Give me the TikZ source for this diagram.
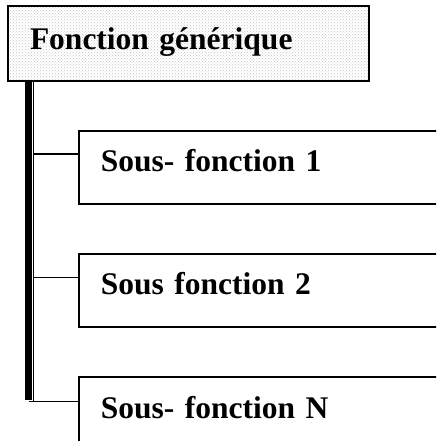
\documentclass[tikz,border=0pt]{standalone}
\usepackage{fontspec}
\setmainfont{Liberation Serif}
\usetikzlibrary{positioning,patterns}

\tikzset{
  topbox/.style={draw, line width=2pt, anchor=north west, align=left,
    text width=317pt, inner xsep=22pt, minimum height=75pt,
    text height=23pt, text depth=10pt,
    pattern=crosshatch dots, pattern color=gray!45},
  subbox/.style={draw, line width=1.6pt, anchor=north west, align=left,
    text width=356pt, inner xsep=22pt, minimum height=73pt,
    text height=21pt, text depth=12pt},
  link/.style={line width=1.2pt},
  trunk/.style={line width=6.5pt}
}

\begin{document}
\begin{tikzpicture}[x=1pt, y=-1pt, font=\fontsize{31.5}{36}\selectfont\bfseries]
\useasboundingbox (0,0) rectangle (436,441);
\clip (0,0) rectangle (436,441);

% ======================================
% THE GENERIC FUNCTION
% ======================================
\node[topbox] (gen) at (7,5) {Fonction générique};

% ======================================
% THE SUB-FUNCTIONS
% ======================================
\node[subbox, below right=48pt and 71pt of gen.south west, anchor=north west] (sf1) {Sous- fonction 1};
\node[subbox, below=48.5pt of sf1.south west, anchor=north west] (sf2) {Sous fonction 2};
\node[subbox, below=48.5pt of sf2.south west, anchor=north west] (sfn) {Sous- fonction N};

% ======================================
% THE TRUNK AND ITS BRANCHES
% ======================================
\coordinate (trunk) at ([xshift=21.5pt]gen.south west);
\coordinate (shadow) at ([xshift=5pt]trunk);
\path (sf1.north west) ++(0,24) coordinate (c1);
\path (sf2.north west) ++(0,24) coordinate (c2);
\path (sfn.north west) ++(0,25) coordinate (cn);

\draw[trunk] (trunk) -- ([yshift=1.5pt]cn -| trunk);
\draw[link] (shadow) -- (cn -| shadow);
\draw[link] (cn -| trunk) -- (cn);
\draw[link] (c1 -| shadow) -- (c1);
\draw[link] (c2 -| shadow) -- (c2);

\end{tikzpicture}
\end{document}
